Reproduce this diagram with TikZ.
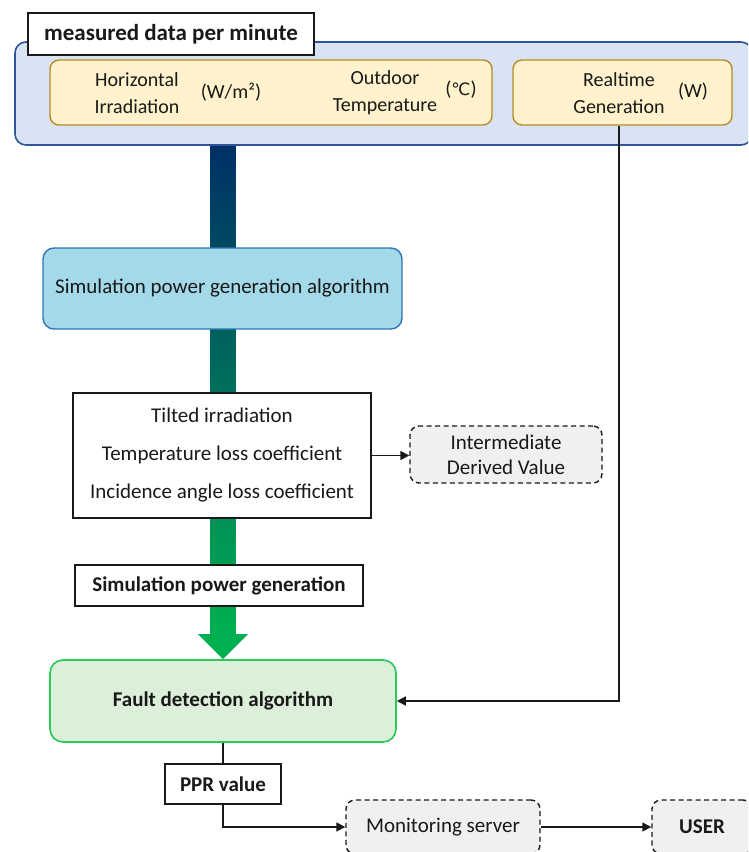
\documentclass[tikz,border=0pt]{standalone}
\usepackage{fontspec}
\setmainfont{Carlito}
\newfontfamily\symbolfont{DejaVu Sans}
\usetikzlibrary{arrows.meta,calc,backgrounds}
\definecolor{skyframe}{RGB}{47, 85, 151}
\definecolor{skyfill}{RGB}{218, 227, 243}
\definecolor{sandframe}{RGB}{180, 140, 40}
\definecolor{sandfill}{RGB}{255, 242, 204}
\definecolor{lagoonframe}{RGB}{46, 117, 182}
\definecolor{lagoonfill}{RGB}{163, 217, 232}
\definecolor{mintframe}{RGB}{40, 200, 90}
\definecolor{mintfill}{RGB}{220, 239, 216}
\definecolor{cloudfill}{RGB}{240, 240, 240}
\definecolor{inkblack}{RGB}{25, 25, 25}
\definecolor{navyflow}{RGB}{0, 48, 102}
\definecolor{tealflow}{RGB}{0, 118, 92}
\definecolor{greenflow}{RGB}{0, 176, 80}
\tikzset{
  plainbox/.style={draw=inkblack, line width=1.4pt, fill=white, inner sep=0pt},
  dashbox/.style={draw=inkblack, line width=1.4pt, dashed, dash pattern=on 5pt off 3.5pt, fill=cloudfill, rounded corners=9pt, inner sep=0pt},
  databox/.style={draw=sandframe, line width=1.4pt, fill=sandfill, rounded corners=9pt, minimum height=65pt, inner sep=0pt},
  datatext/.style={align=center, inner sep=0pt, font=\fontsize{20}{27}\selectfont},
  flowline/.style={draw=inkblack, line width=1.6pt},
  flowarrow/.style={flowline, -{Triangle[length=9pt, width=9pt]}}
}
\begin{document}
\begin{tikzpicture}[x=1pt, y=-1pt, font=\fontsize{21}{25}\selectfont, text=inkblack]
    \clip (0,0) rectangle (748,852);
    % Measured data
    \node[draw=skyframe, line width=1.6pt, fill=skyfill, rounded corners=11pt, minimum width=737pt, minimum height=103pt, inner sep=0pt] (meas) at (383.5, 93.5) {};
    \node[databox, minimum width=442pt] (envdata) at (271, 92.5) {};
    \node[databox, minimum width=219pt] (realdata) at (622.5, 92.5) {};
    \node[plainbox, minimum width=286pt, minimum height=42pt, font=\fontsize{23}{27}\selectfont\bfseries] (title) at (171, 34) {measured data per minute};
    \node[datatext] (hirr) at (137, 93) {Horizontal\\Irradiation};
    \node[datatext] (hirrunit) at (231, 92) {(W/m²)};
    \node[datatext] (otemp) at (385, 93) {Outdoor\\Temperature};
    \node[datatext] (otempunit) at (461, 90) {({\symbolfont\fontsize{17}{20}\selectfont ℃})};
    \node[datatext] (rgen) at (619, 93) {Realtime\\Generation};
    \node[datatext] (rgenunit) at (693, 92) {(W)};
    % Simulation chain
    \node[draw=lagoonframe, line width=1.4pt, fill=lagoonfill, rounded corners=11pt, minimum width=359pt, minimum height=81pt, inner sep=0pt] (simalgo) at (222.5, 288.5) {Simulation power generation algorithm};
    \node[plainbox, minimum width=298pt, minimum height=125pt, align=center, font=\fontsize{21}{38}\selectfont] (derived) at (222, 455.5) {Tilted irradiation\\Temperature loss coefficient\\Incidence angle loss coefficient};
    \node[dashbox, minimum width=192pt, minimum height=57pt, align=center, font=\fontsize{21}{25}\selectfont] (inter) at (506, 454.5) {Intermediate\\Derived Value};
    \node[plainbox, minimum width=288pt, minimum height=41pt, font=\fontsize{21}{25}\selectfont\bfseries] (simpower) at (219, 585.5) {Simulation power generation};
    % Fault detection and output
    \node[draw=mintframe, line width=1.6pt, fill=mintfill, rounded corners=13pt, minimum width=346pt, minimum height=82pt, inner sep=0pt, font=\fontsize{21}{25}\selectfont\bfseries] (fault) at (223, 701) {Fault detection algorithm};
    \node[plainbox, minimum width=116pt, minimum height=40pt, font=\fontsize{21}{25}\selectfont\bfseries] (ppr) at (223, 784) {PPR value};
    \node[dashbox, minimum width=194pt, minimum height=54pt] (monitor) at (443, 827) {Monitoring server};
    \node[dashbox, minimum width=100pt, minimum height=54pt, font=\fontsize{21}{25}\selectfont\bfseries] (user) at (702, 827) {USER};
    % Main flow bar
    \begin{pgfonlayer}{background}
        \shade[top color=navyflow, middle color=tealflow, bottom color=greenflow] ($(meas.south -| fault.north)+(-12.5,0)$) rectangle ($(fault.north)+(12.5,-25)$);
    \end{pgfonlayer}
    \fill[greenflow] ($(fault.north)+(-25,-25)$) -- ($(fault.north)+(25,-25)$) -- (fault.north) -- cycle;
    % Connectors
    \draw[flowarrow] (derived.east) -- (derived.east -| inter.west);
    \draw[flowarrow] ($(realdata.south)+(-3.5,0)$) |- (fault.east);
    \draw[flowline] (fault.south) -- (ppr.north);
    \draw[flowarrow] (ppr.south) |- (monitor.west);
    \draw[flowarrow] (monitor.east) -- (user.west);
\end{tikzpicture}
\end{document}
